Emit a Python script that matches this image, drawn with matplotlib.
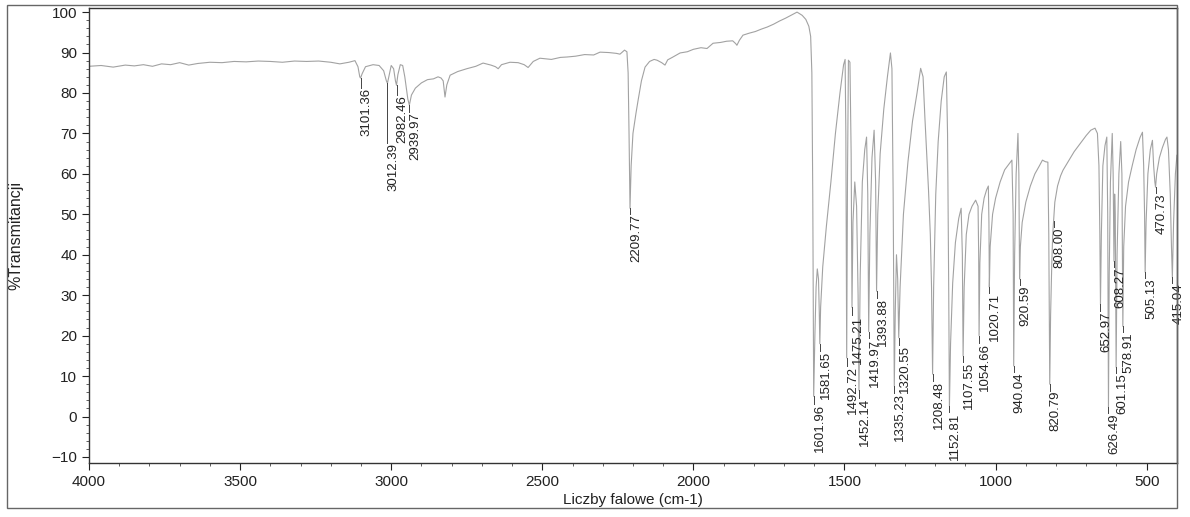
import matplotlib
matplotlib.use("Agg")
import matplotlib.pyplot as plt
import numpy as np
from matplotlib.ticker import MultipleLocator
from matplotlib.patches import Rectangle

plt.rcParams['font.family'] = ['Liberation Sans', 'DejaVu Sans']

# ---- spectrum: wavenumber (cm-1) and %T ----
wavenumber = [
    4000, 3960, 3920, 3880, 3850, 3820, 3790, 3760, 3730, 3700, 3670, 3640, 3600, 3560,
    3520, 3480, 3440, 3400, 3360, 3320, 3280, 3240, 3200, 3170, 3140, 3120, 3110, 3104,
    3101.36, 3096, 3085, 3060, 3040, 3025, 3016, 3012.39, 3008, 3000, 2992, 2986, 2982.46,
    2978, 2970, 2962, 2955, 2945, 2939.97, 2933, 2920, 2900, 2880, 2860, 2845, 2835, 2828,
    2822, 2816, 2805, 2780, 2750, 2720, 2696, 2670, 2655, 2646, 2635, 2607, 2580, 2560,
    2547, 2530, 2508, 2470, 2440, 2418, 2390, 2360, 2330, 2309, 2280, 2255, 2243, 2228,
    2220, 2216, 2213, 2209.77, 2206, 2200, 2190, 2183, 2172, 2160, 2145, 2130, 2120, 2105,
    2094, 2085, 2070, 2044, 2020, 2000, 1975, 1955, 1935, 1910, 1890, 1870, 1860, 1856,
    1848, 1836, 1815, 1795, 1775, 1756, 1735, 1715, 1695, 1675, 1657, 1640, 1628, 1618,
    1612, 1608, 1605, 1601.96,
    1598, 1594, 1590, 1586, 1583.5, 1581.65, 1579, 1572, 1560, 1545, 1530, 1515, 1503, 1498,
    1495.5, 1492.72, 1490, 1487, 1482, 1478, 1475.21, 1472, 1466, 1460, 1455, 1452.14, 1448,
    1441, 1433, 1427, 1423, 1419.97, 1416, 1409, 1402, 1397, 1393.88, 1390, 1382, 1370, 1358,
    1348, 1343, 1339, 1335.23, 1332, 1328, 1324, 1320.55, 1316, 1305, 1290, 1275, 1260, 1248,
    1240, 1234, 1228, 1222, 1216, 1212, 1208.48, 1205, 1198, 1190, 1180, 1170, 1163, 1159,
    1155, 1152.81, 1149, 1142, 1133, 1122, 1114, 1110, 1107.55, 1104, 1097, 1088, 1078, 1066,
    1058, 1056, 1054.66, 1052, 1046, 1038, 1030, 1024, 1022, 1020.71, 1018, 1010, 1000, 985,
    970, 955, 946, 942, 940.04, 937, 932, 926, 923, 920.59, 918, 912, 900, 885, 870, 855, 845,
    835, 827, 824, 820.79, 818, 814, 811, 808, 804, 795, 785, 777, 760, 740, 720, 700, 685,
    671, 663, 658, 655, 652.97, 650, 645, 638, 632, 629, 626.49, 624, 620, 614, 611, 608.27,
    606, 604, 601.15, 598, 592, 586, 582, 578.91, 576, 570, 560, 548, 535, 522, 514, 510, 507,
    505.13, 502, 496, 488, 481, 477, 473, 470.73, 467, 458, 448, 438, 433, 428, 422, 418,
    415.04, 411, 405, 400,
]
transmittance = [
    86.6, 86.8, 86.4, 86.9, 86.7, 87.0, 86.6, 87.2, 87.0, 87.5, 86.9, 87.3, 87.6, 87.5,
    87.8, 87.7, 87.9, 87.8, 87.6, 87.9, 87.8, 87.9, 87.6, 87.2, 87.6, 88.0, 86.5, 84.0,
    83.7, 84.8, 86.5, 87.0, 86.8, 85.5, 83.0, 82.4, 84.0, 86.8, 86.0, 83.0, 81.9,
    84.5, 87.0, 86.8, 84.0, 78.5, 77.0, 79.5, 81.2, 82.5, 83.3, 83.5, 84.0, 83.7, 83.0,
    79.0, 82.0, 84.4, 85.3, 86.0, 86.6, 87.4, 86.9, 86.5, 86.0, 87.0, 87.6, 87.5, 87.0,
    86.3, 87.8, 88.6, 88.3, 88.8, 88.9, 89.1, 89.5, 89.4, 90.1, 90.0, 89.8, 89.6, 90.6,
    90.2, 85.0, 70.0, 51.5, 62.0, 70.0, 75.0, 78.2, 83.0, 86.4, 87.8, 88.3, 88.1, 87.5,
    86.9, 88.2, 88.8, 89.9, 90.2, 90.8, 91.2, 91.0, 92.3, 92.5, 92.8, 92.9, 92.2, 91.8,
    93.0, 94.3, 94.8, 95.2, 95.8, 96.3, 97.0, 97.8, 98.5, 99.3, 100.0, 99.2, 98.2, 96.5,
    94.0, 85.0, 55.0, 5.0,
    20, 32, 36.5, 34, 26, 18, 27, 37, 47, 58, 70, 80, 87, 88.3,
    70, 14.5, 60, 88.1, 87.6, 65, 27, 48, 58, 52, 30, 6.5, 35,
    58, 66, 69.1, 55, 21, 45, 64, 70.8, 58, 31, 50, 65, 76, 84,
    89.9, 86, 55, 7.5, 26, 40, 34, 19.5, 32, 50, 63, 73, 80, 86.1,
    84, 74, 65.1, 56, 45, 32, 10.5, 32, 55, 68, 78, 84, 85.2, 70,
    30, 2.5, 18, 33, 43, 49, 51.5, 40, 15, 32, 45, 50, 52, 53.5,
    52, 40, 20, 38, 50, 54, 56, 57, 48, 32, 42, 50, 54, 58,
    61, 62.5, 63.4, 50, 12.5, 40, 60, 70, 60, 34, 42, 48, 53, 57, 60, 62, 63.4,
    63, 62.9, 45, 8, 25, 38, 45, 48.3, 53, 57, 59.5, 60.9, 63, 65.5, 67.5, 69.5, 70.8,
    71.3, 70, 62, 45, 27.7, 45, 62, 67, 69.1, 50, 2.3, 35, 58, 70, 60, 38.4,
    55, 50, 12.2, 40, 60, 68, 60, 22.3, 42, 52, 58, 62, 66, 69, 70.3, 62, 50,
    35.7, 48, 60, 66, 68.3, 62, 58, 56.7, 60, 64, 66.5, 68.5, 69.1, 66, 55, 42,
    34.4, 48, 60, 64.6,
]

# ---- peak labels ----
peak_labels = ["3101.36", "3012.39", "2982.46", "2939.97", "2209.77",
               "1601.96", "1581.65", "1492.72", "1475.21", "1452.14", "1419.97",
               "1393.88", "1335.23", "1320.55", "1208.48", "1152.81", "1107.55",
               "1054.66", "1020.71", "940.04", "920.59", "820.79", "808.00",
               "652.97", "626.49", "608.27", "601.15", "578.91", "505.13",
               "470.73", "415.04"]
peak_wn = [float(s) for s in peak_labels]
# %T level of the top of each label
label_top = [81.2, 67.6, 79.5, 75.3, 50.0,
             3.2, 16.3, 12.6, 25.0, 4.7, 19.3,
             29.2, 5.7, 17.6, 8.9, 1.0, 13.4,
             18.3, 30.5, 10.9, 32.4, 6.4, 46.8,
             26.0, 0.8, 36.9, 10.7, 20.8, 34.2,
             55.2, 32.9]

xticks = [4000, 3500, 3000, 2500, 2000, 1500, 1000, 500]
yticks = [-10, 0, 10, 20, 30, 40, 50, 60, 70, 80, 90, 100]

fig = plt.figure(figsize=(11.9, 5.17), dpi=100)
ax = fig.add_axes([0.0748, 0.1044, 0.9142, 0.880])

ax.plot(wavenumber, transmittance, color='#a2a2a2', lw=0.8)

curve_wn = np.array(wavenumber)[::-1]
curve_t = np.array(transmittance)[::-1]
for lab, wn, top in zip(peak_labels, peak_wn, label_top):
    tmin = np.interp(wn, curve_wn, curve_t)
    ax.plot([wn, wn], [tmin, top], color='#444444', lw=0.7)
    ax.text(wn, top, lab, rotation=90, ha='left', va='top', fontsize=9.5,
            color='#222222', clip_on=False)

ax.set_xlim(4000, 400)
ax.set_ylim(-11.5, 101)
ax.set_xticks(xticks)
ax.set_yticks(yticks)
ax.xaxis.set_minor_locator(MultipleLocator(100))
ax.yaxis.set_minor_locator(MultipleLocator(2))
ax.tick_params(axis='both', which='major', labelsize=11, length=5, width=0.8,
               colors='#222222')
ax.tick_params(axis='both', which='minor', length=2.5, width=0.6, colors='#444444')
for sp in ax.spines.values():
    sp.set_color('#333333')
    sp.set_linewidth(1.0)

ax.set_xlabel('Liczby falowe (cm-1)', fontsize=11, color='#222222', labelpad=3)
ax.set_ylabel('%Transmitancji', fontsize=11.5, color='#222222', labelpad=20)

# outer page frame
fig.add_artist(Rectangle((7 / 1190, 9 / 517), (1177 - 7) / 1190, (512 - 9) / 517,
                         transform=fig.transFigure, fill=False,
                         edgecolor='#666666', lw=1.0))

fig.savefig('out.png', dpi=100, facecolor='white')
